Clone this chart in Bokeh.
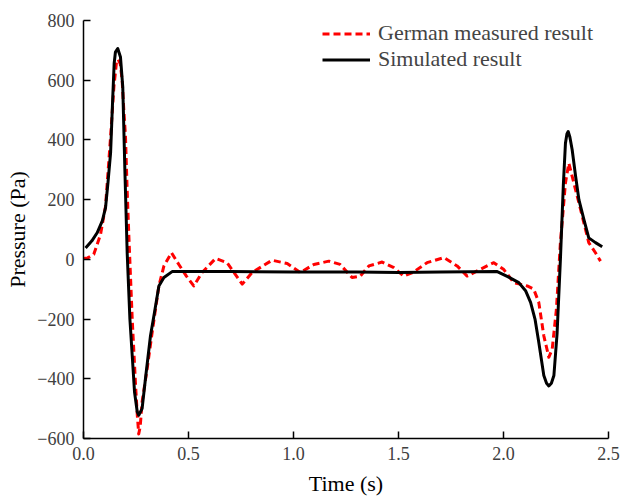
from bokeh.plotting import figure
from bokeh.models import Range1d, FixedTicker, Legend, LegendItem
from bokeh.embed import file_html
from bokeh.resources import INLINE

# Simulated result (black solid)
t_sim = [0.01, 0.04, 0.065, 0.09, 0.105, 0.117, 0.129, 0.138, 0.146, 0.152, 0.163, 0.176,
         0.187, 0.197, 0.208, 0.221, 0.232, 0.243, 0.256, 0.263, 0.279, 0.295, 0.319, 0.338,
         0.359, 0.383, 0.422, 0.7, 1.0, 1.3, 1.5, 1.7, 1.97, 2.02, 2.073, 2.105, 2.129, 2.15,
         2.168, 2.192, 2.205, 2.216, 2.228, 2.24, 2.255, 2.271, 2.285, 2.295, 2.302, 2.308,
         2.316, 2.327, 2.343, 2.359, 2.383, 2.406, 2.438, 2.47]
p_sim = [38, 62, 89, 130, 173, 260, 357, 520, 656, 694, 706, 678,
         578, 300, 22, -200, -322, -444, -511, -522, -500, -400, -256, -178,
         -89, -61, -41, -41, -42, -42, -44, -42, -41, -58, -78, -105, -144, -200,
         -278, -389, -415, -424, -415, -389, -250, 0, 250, 389, 420, 428,
         410, 367, 280, 200, 133, 72, 56, 42]

# German measured result (red dashed)
t_meas = [0.0, 0.02, 0.049, 0.081, 0.105, 0.129, 0.145, 0.157, 0.165, 0.175, 0.184, 0.192,
          0.2, 0.208, 0.216, 0.232, 0.248, 0.256, 0.263, 0.27, 0.279, 0.303, 0.327, 0.359,
          0.383, 0.419, 0.454, 0.49, 0.525, 0.565, 0.629, 0.684, 0.756, 0.803, 0.898, 0.97,
          1.033, 1.097, 1.168, 1.222, 1.279, 1.318, 1.359, 1.422, 1.478, 1.525, 1.568, 1.636,
          1.716, 1.779, 1.827, 1.89, 1.954, 2.0, 2.049, 2.113, 2.144, 2.168, 2.192, 2.216,
          2.232, 2.252, 2.271, 2.295, 2.311, 2.335, 2.367, 2.406, 2.438, 2.462]
p_meas = [3, 5, 17, 83, 178, 411, 580, 660, 670, 655, 600, 500,
          411, 230, 78, -200, -422, -520, -585, -560, -478, -367, -244, -89,
          -22, 22, -17, -56, -89, -44, 3, -11, -83, -44, -3, -14,
          -44, -17, -6, -17, -61, -56, -22, -9, -28, -56, -44, -11,
          6, -22, -56, -33, -11, -33, -78, -89, -100, -144, -256, -328,
          -300, -167, 56, 256, 322, 256, 167, 56, 22, -6]

x_ticks = [0.0, 0.5, 1.0, 1.5, 2.0, 2.5]
x_tick_labels = ["0.0", "0.5", "1.0", "1.5", "2.0", "2.5"]
y_ticks = [-600, -400, -200, 0, 200, 400, 600, 800]
y_tick_labels = ["\u2212600", "\u2212400", "\u2212200", "0", "200", "400", "600", "800"]

FONT = "Liberation Serif"

p = figure(width=620, height=498, output_backend="svg", toolbar_location=None,
           x_range=Range1d(0, 2.5), y_range=Range1d(-600, 800),
           min_border_left=83, min_border_right=12, min_border_top=20, min_border_bottom=58)
p.outline_line_color = None
p.grid.visible = False
p.background_fill_color = "white"
p.border_fill_color = "white"

r_meas = p.line(t_meas, p_meas, line_color="#ff0000", line_width=3, line_dash="7 4",
                line_join="round")
r_sim = p.line(t_sim, p_sim, line_color="black", line_width=3, line_join="round")

for ax in (p.xaxis[0], p.yaxis[0]):
    ax.axis_line_color = "black"
    ax.axis_line_width = 1.5
    ax.major_tick_line_color = "black"
    ax.major_tick_line_width = 1.5
    ax.major_tick_in = 7
    ax.major_tick_out = 0
    ax.minor_tick_line_color = None
    ax.major_label_text_font = FONT
    ax.major_label_text_font_size = "18px"
    ax.major_label_text_color = "#404040"
    ax.axis_label_text_font = FONT
    ax.axis_label_text_font_size = "22px"
    ax.axis_label_text_font_style = "normal"
    ax.axis_label_text_color = "black"

p.xaxis[0].ticker = FixedTicker(ticks=x_ticks)
p.xaxis[0].major_label_overrides = {t: l for t, l in zip(x_ticks, x_tick_labels)}
p.xaxis[0].axis_label = "Time (s)"
p.xaxis[0].major_label_standoff = 8
p.xaxis[0].axis_label_standoff = 8

p.yaxis[0].ticker = FixedTicker(ticks=y_ticks)
p.yaxis[0].major_label_overrides = {t: l for t, l in zip(y_ticks, y_tick_labels)}
p.yaxis[0].axis_label = "Pressure (Pa)"
p.yaxis[0].major_label_standoff = 9
p.yaxis[0].axis_label_standoff = 4

legend = Legend(items=[LegendItem(label="German measured result", renderers=[r_meas]),
                       LegendItem(label="Simulated result", renderers=[r_sim])],
                location=(239, 366), padding=0, margin=0, spacing=0,
                glyph_width=48, glyph_height=25, label_height=25, label_standoff=8,
                label_text_font=FONT, label_text_font_size="22px",
                border_line_color=None, background_fill_alpha=0)
p.add_layout(legend)

open("out.html", "w").write(file_html(p, INLINE))
